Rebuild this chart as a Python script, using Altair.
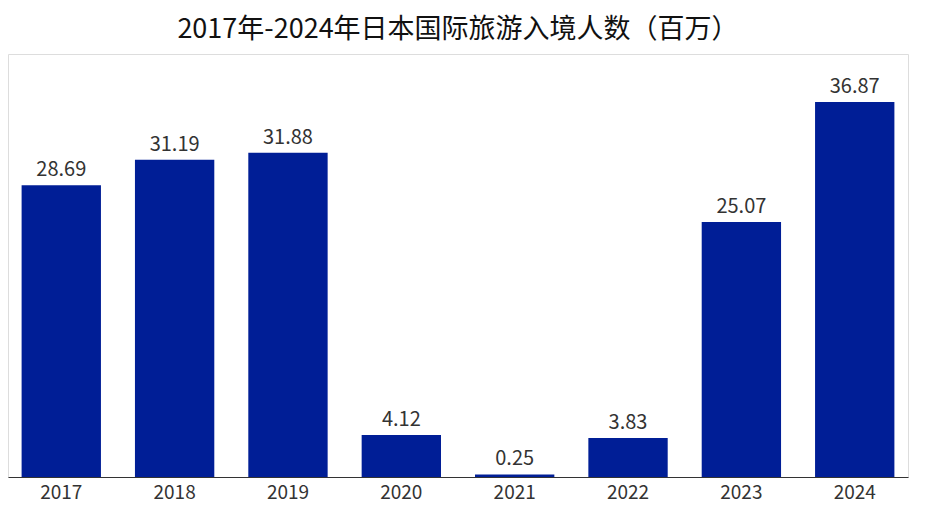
import altair as alt
import pandas as pd

years = ["2017", "2018", "2019", "2020", "2021", "2022", "2023", "2024"]
visitors = [28.69, 31.19, 31.88, 4.12, 0.25, 3.83, 25.07, 36.87]

df = pd.DataFrame({"year": years, "visitors": visitors})

base = alt.Chart(df).encode(
    x=alt.X("year:N", title=None, sort=years,
            scale=alt.Scale(paddingInner=0.3, paddingOuter=0.12),
            axis=alt.Axis(labelAngle=0, labelFontSize=19, labelColor="#333333",
                          labelFont="Noto Sans CJK SC", domainColor="#333333",
                          ticks=False, labelPadding=6)),
    y=alt.Y("visitors:Q", title=None, scale=alt.Scale(domain=[0, 41.6], nice=False),
            axis=None),
)

bars = base.mark_bar(color="#001E96")
labels = base.mark_text(dy=-15, fontSize=20, color="#333333",
                        font="Noto Sans CJK SC").encode(
    text=alt.Text("visitors:Q", format=".2f"))

chart = (bars + labels).properties(
    width=900, height=423,
    title=alt.TitleParams("2017年-2024年日本国际旅游入境人数（百万）",
                          fontSize=27, font="Noto Sans CJK SC",
                          fontWeight="normal", color="#111111", offset=10),
).configure_view(strokeWidth=0).configure(padding={"left": 0, "right": 2, "top": 8, "bottom": 0})

chart.save("out.html", embed_options={"renderer": "svg", "actions": False})
